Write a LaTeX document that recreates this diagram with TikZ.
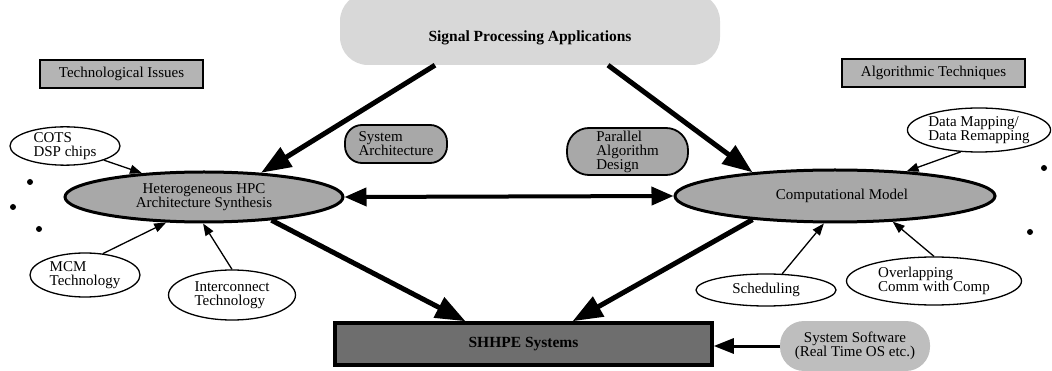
\documentclass[tikz,border=0pt]{standalone}
\usepackage{fontspec}
\setmainfont{Liberation Serif}
\usetikzlibrary{arrows.meta,shapes.geometric,calc}
\definecolor{midgray}{HTML}{A8A8A8}
\definecolor{boxgray}{HTML}{B4B4B4}
\definecolor{darkfill}{HTML}{6E6E6E}
\definecolor{cloudgray}{HTML}{D8D8D8}
\definecolor{softgray}{HTML}{BEBEBE}
\tikzset{
  every node/.style={font=\fontsize{15}{14}\selectfont, inner sep=0pt},
  bigell/.style={ellipse, draw=black, line width=3pt, fill=midgray, align=center},
  smallell/.style={ellipse, draw=black, line width=1.3pt, fill=white, align=left},
  pill/.style={rounded corners=17pt, draw=black, line width=1.8pt, fill=midgray, align=left},
  labelbox/.style={rectangle, draw=black, line width=1.6pt, fill=boxgray},
  thickarrow/.style={line width=5pt, -{Triangle[length=30pt,width=22pt]}},
  dblarrow/.style={line width=4pt, {Triangle[length=22pt,width=18pt]}-{Triangle[length=22pt,width=18pt]}},
  thinarrow/.style={line width=1.3pt, -{Triangle[length=12pt,width=9pt]}},
  midarrow/.style={line width=3pt, -{Triangle[length=20pt,width=15pt]}},
  dot/.style={circle, fill=black, minimum size=6pt}
}
\begin{document}
\begin{tikzpicture}[x=1pt,y=-1pt]
\useasboundingbox (0,0) rectangle (1052,371);

% cloud
\node[rectangle, rounded corners=28pt, fill=cloudgray, minimum width=380pt, minimum height=72pt] (cloud) at (530,29) {};
\node[font=\fontsize{15.5}{14}\selectfont\bfseries] (sigtxt) at (530,38) {Signal Processing Applications};

% header boxes
\node[labelbox, minimum width=163pt, minimum height=28pt] (tech) at (121.5,74) {Technological Issues};
\node[labelbox, minimum width=183pt, minimum height=28pt] (algo) at (933.5,73) {Algorithmic Techniques};

% big ellipses
\node[bigell, minimum width=278pt, minimum height=50pt] (het) at (204,197) {Heterogeneous HPC\\Architecture Synthesis};
\node[bigell, minimum width=320pt, minimum height=52pt] (comp) at (835,196) {\hspace*{14pt}Computational Model};

% pills
\node[pill, minimum width=102pt, minimum height=38pt] (sysarch) at (396,144) {System\\Architecture};
\node[pill, minimum width=121pt, minimum height=47pt, rounded corners=22pt] (para) at (627.5,151.5) {Parallel\\Algorithm\\Design};

% small ellipses
\node[smallell, minimum width=110pt, minimum height=35pt] (cots) at (65,146) {COTS\\DSP chips};
\node[smallell, minimum width=110pt, minimum height=44pt] (mcm) at (85,275) {MCM\\Technology};
\node[smallell, minimum width=127pt, minimum height=50pt] (ic) at (232,295) {Interconnect\\Technology};
\node[smallell, minimum width=142pt, minimum height=44pt] (dm) at (979,130) {Data Mapping/\\Data Remapping};
\node[smallell, minimum width=140pt, minimum height=32pt] (sch) at (766,290) {Scheduling};
\node[smallell, minimum width=175pt, minimum height=48pt] (ov) at (934,281) {Overlapping\\Comm with Comp};

% SHHPE box
\node[rectangle, draw=black, line width=3.5pt, fill=darkfill, minimum width=377pt, minimum height=42pt, font=\fontsize{15.5}{14}\selectfont\bfseries] (shp) at (523.5,344) {SHHPE Systems};

% system software
\node[rectangle, rounded corners=24pt, fill=softgray, minimum width=150pt, minimum height=50pt, align=center] (sys) at (855,346) {System Software\\(Real Time OS etc.)};

% dots
\node[dot] (d1) at (30,182) {};
\node[dot] (d2) at (13,207) {};
\node[dot] (d3) at (39,229) {};
\node[dot] (d4) at (1044,168) {};
\node[dot] (d5) at (1030,232) {};

% thick arrows
\draw[thickarrow] ($(cloud.south)+(-95,0)$) -- (het.23);
\draw[thickarrow] ($(cloud.south)+(78,0)$) -- (comp.164);
\draw[thickarrow] (het.-19) -- ($(shp.north)+(-58,0)$);
\draw[thickarrow] (comp.196) -- ($(shp.north)+(49,0)$);
\draw[dblarrow] (het.east) -- (comp.west);

% thin arrows
\draw[thinarrow] (cots.-20) -- (het.159);
\draw[thinarrow] (mcm.50) -- (het.214);
\draw[thinarrow] (ic.north) -- (het.268);
\draw[thinarrow] (dm.230) -- (comp.19);
\draw[thinarrow] (sch.45) -- (comp.248);
\draw[thinarrow] (ov.north) -- (comp.-24);

% system software arrow
\draw[midarrow] (sys.west) -- (sys.west -| shp.east);
\end{tikzpicture}
\end{document}
